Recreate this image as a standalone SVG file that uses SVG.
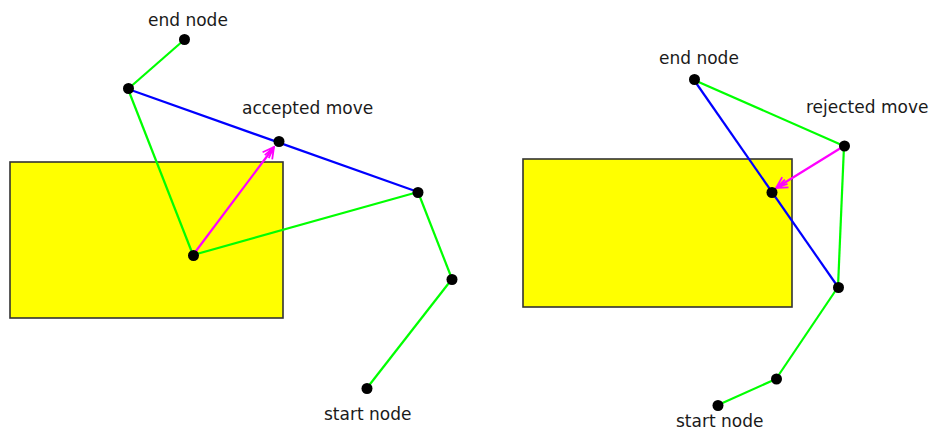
<svg xmlns="http://www.w3.org/2000/svg" width="931" height="432" viewBox="0 0 931 432">
<style>
.obst{fill:#ffff00;stroke:#333;stroke-width:1.6}
.g{stroke:#00ff00;stroke-width:2.2;fill:none}
.b{stroke:#0000ff;stroke-width:2.2;fill:none}
.m{stroke:#ff00ff;stroke-width:2.2;fill:none}
.dot{fill:#000}
.lbl{font-family:"DejaVu Sans",sans-serif;font-size:17px;fill:#1a1a1a}
</style>
<defs>
<marker id="arr" markerUnits="userSpaceOnUse" viewBox="-14 -9 16 18" refX="0" refY="0" markerWidth="16" markerHeight="18" orient="auto">
<path d="M-11,-6 L0,0 L-11,6 M-12,-2.5 L-1,0 L-12,2.5" fill="none" stroke="#ff00ff" stroke-width="1.8"/>
</marker>
</defs>
<g id="obstacle-left"><rect class="obst" x="10" y="162" width="273" height="156"/></g>
<g id="obstacle-right"><rect class="obst" x="523" y="159" width="269" height="148"/></g>
<g id="connectors">
<line class="g" x1="184" y1="40" x2="128" y2="89"/>
<line class="g" x1="128" y1="89" x2="193" y2="255"/>
<line class="g" x1="193" y1="255" x2="418" y2="192"/>
<line class="g" x1="418" y1="192" x2="452" y2="279"/>
<line class="g" x1="452" y1="279" x2="367" y2="388"/>
<line class="b" x1="128" y1="89" x2="418" y2="192"/>
<line class="m" x1="193" y1="255" x2="274" y2="147" marker-end="url(#arr)"/>
<line class="g" x1="694" y1="80" x2="844" y2="146"/>
<line class="b" x1="694" y1="80" x2="838" y2="287"/>
<line class="g" x1="844" y1="146" x2="838" y2="287"/>
<line class="g" x1="838" y1="287" x2="776" y2="379"/>
<line class="g" x1="776" y1="379" x2="718" y2="405"/>
<line class="m" x1="844" y1="146" x2="776" y2="188" marker-end="url(#arr)"/>
</g>
<g id="left-end"><circle class="dot" cx="184.5" cy="39.5" r="5.5"/><text class="lbl" x="148" y="26">end node</text></g>
<g id="left-n1"><circle class="dot" cx="128.5" cy="88.5" r="5.5"/></g>
<g id="left-accepted"><circle class="dot" cx="279" cy="141.5" r="5.5"/><text class="lbl" x="242" y="114">accepted move</text></g>
<g id="left-n2"><circle class="dot" cx="193.5" cy="255.5" r="5.5"/></g>
<g id="left-n3"><circle class="dot" cx="418" cy="192.5" r="5.5"/></g>
<g id="left-n4"><circle class="dot" cx="452" cy="279.5" r="5.5"/></g>
<g id="left-start"><circle class="dot" cx="367" cy="388.5" r="5.5"/><text class="lbl" x="324" y="420">start node</text></g>
<g id="right-end"><circle class="dot" cx="694.5" cy="79.5" r="5.5"/><text class="lbl" x="659" y="64">end node</text></g>
<g id="right-rejected"><circle class="dot" cx="844.5" cy="146" r="5.5"/><text class="lbl" x="806" y="113">rejected move</text></g>
<g id="right-mid"><circle class="dot" cx="772" cy="192.5" r="5.5"/></g>
<g id="right-n1"><circle class="dot" cx="838.5" cy="287.5" r="5.5"/></g>
<g id="right-n2"><circle class="dot" cx="776.5" cy="379" r="5.5"/></g>
<g id="right-start"><circle class="dot" cx="718" cy="405.5" r="5.5"/><text class="lbl" x="676" y="427">start node</text></g>
</svg>
